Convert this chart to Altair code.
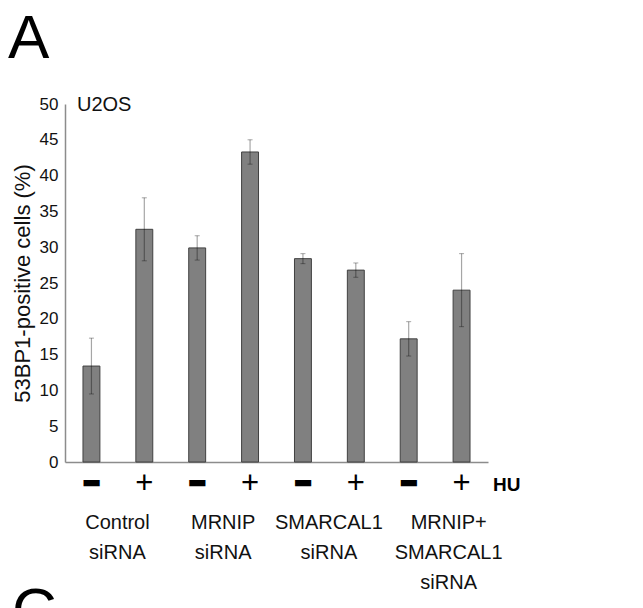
import altair as alt
import pandas as pd

# ---- data ----
bars = ["1", "2", "3", "4", "5", "6", "7", "8"]
hu_sign = ["−", "+", "−", "+", "−", "+", "−", "+"]
means = [13.4, 32.5, 29.9, 43.3, 28.4, 26.8, 17.2, 24.0]
errors = [3.9, 4.4, 1.7, 1.7, 0.7, 1.0, 2.4, 5.1]

group_labels = ["Control\nsiRNA", "MRNIP\nsiRNA", "SMARCAL1\nsiRNA", "MRNIP+\nSMARCAL1\nsiRNA"]
group_anchor = ["1", "3", "5", "7"]
y_ticks = [0, 5, 10, 15, 20, 25, 30, 35, 40, 45, 50]

REG = "Liberation Sans, Arial, sans-serif"

df = pd.DataFrame({
    "bar": bars,
    "hu": hu_sign,
    "mean": means,
    "lo": [m - e for m, e in zip(means, errors)],
    "hi": [m + e for m, e in zip(means, errors)],
})
gdf = pd.DataFrame({"bar": group_anchor, "label": group_labels})
one = pd.DataFrame({"k": [0]})

xscale = alt.Scale(domain=bars, paddingInner=0.68, paddingOuter=0.34)
yscale = alt.Scale(domain=[0, 50], nice=False)

x_axis = alt.Axis(labels=False, ticks=False, title=None, grid=False,
                  domainColor="#8c8c8c", domainWidth=1.5)
y_axis = alt.Axis(values=y_ticks, grid=False, ticks=False, tickSize=0,
                  labelFont=REG, labelFontSize=17, labelColor="#111",
                  labelOverlap=False, labelPadding=7,
                  domainColor="#8c8c8c", domainWidth=1.5,
                  title="53BP1-positive cells (%)", titleFont=REG,
                  titleFontSize=22, titleFontWeight="normal", titleColor="#111",
                  titleAngle=270, titleX=-36, titleY=179,
                  titleAlign="center", titleBaseline="alphabetic")


def X():
    return alt.X("bar:N", scale=xscale, axis=x_axis)


def Y(field):
    return alt.Y(field, scale=yscale, axis=y_axis)


bars_layer = alt.Chart(df).mark_bar(color="#808080", stroke="#404040", strokeWidth=1).encode(
    x=X(), y=Y("mean:Q"))

err_rule = alt.Chart(df).mark_rule(color="black", opacity=0.35, strokeWidth=1.2).encode(
    x=X(), y=Y("lo:Q"), y2="hi:Q")
cap_hi = alt.Chart(df).mark_tick(color="black", opacity=0.35, size=5, thickness=1).encode(
    x=X(), y=Y("hi:Q"))
cap_lo = alt.Chart(df).mark_tick(color="black", opacity=0.35, size=5, thickness=1).encode(
    x=X(), y=Y("lo:Q"))

plus_signs = alt.Chart(df).transform_filter(alt.datum.hu == "+").mark_text(
    font=REG, fontSize=31, fontWeight="normal", baseline="middle", align="center",
    color="black").encode(x=X(), y=alt.value(380), text="hu:N")

minus_signs = alt.Chart(df).transform_filter(alt.datum.hu == "−").mark_text(
    font=REG, fontSize=24, baseline="middle", align="center",
    color="black", stroke="black", strokeWidth=4.5).encode(
    x=X(), y=alt.value(380), text="hu:N")

hu_label = alt.Chart(one).mark_text(font=REG, fontSize=19, fontWeight="bold",
                                    align="left", baseline="middle", color="black").encode(
    x=alt.value(428), y=alt.value(381), text=alt.value("HU"))

grp_a = alt.Chart(gdf).transform_filter(alt.datum.bar != "7").mark_text(
    font=REG, fontSize=20, fontWeight="normal", align="center", baseline="top",
    lineBreak="\n", lineHeight=30, dx=26, color="#111").encode(
    x=X(), y=alt.value(409), text="label:N")
grp_b = alt.Chart(gdf).transform_filter(alt.datum.bar == "7").mark_text(
    font=REG, fontSize=20, fontWeight="normal", align="center", baseline="top",
    lineBreak="\n", lineHeight=30, dx=40, color="#111").encode(
    x=X(), y=alt.value(409), text="label:N")

u2os = alt.Chart(one).mark_text(font=REG, fontSize=20, fontWeight="normal", align="left",
                                baseline="middle", color="#111").encode(
    x=alt.value(12), y=alt.value(1), text=alt.value("U2OS"))

panel_a = alt.Chart(one).mark_text(font=REG, fontSize=62, fontWeight="normal", align="left",
                                   baseline="alphabetic", color="black").encode(
    x=alt.value(-57), y=alt.value(-46), text=alt.value("A"))
panel_c = alt.Chart(one).mark_text(font=REG, fontSize=62, fontWeight="normal", align="left",
                                   baseline="alphabetic", color="black").encode(
    x=alt.value(-53), y=alt.value(527), text=alt.value("C"))

chart = alt.layer(
    bars_layer, err_rule, cap_hi, cap_lo, plus_signs, minus_signs, hu_label,
    grp_a, grp_b, u2os, panel_a, panel_c
).properties(
    width=423, height=358,
    padding={"left": 65, "top": 104, "right": 155, "bottom": 146},
    autosize=alt.AutoSizeParams(type="none"),
).configure_view(stroke=None)

chart.save("out.html", embed_options={"renderer": "svg", "actions": False})
